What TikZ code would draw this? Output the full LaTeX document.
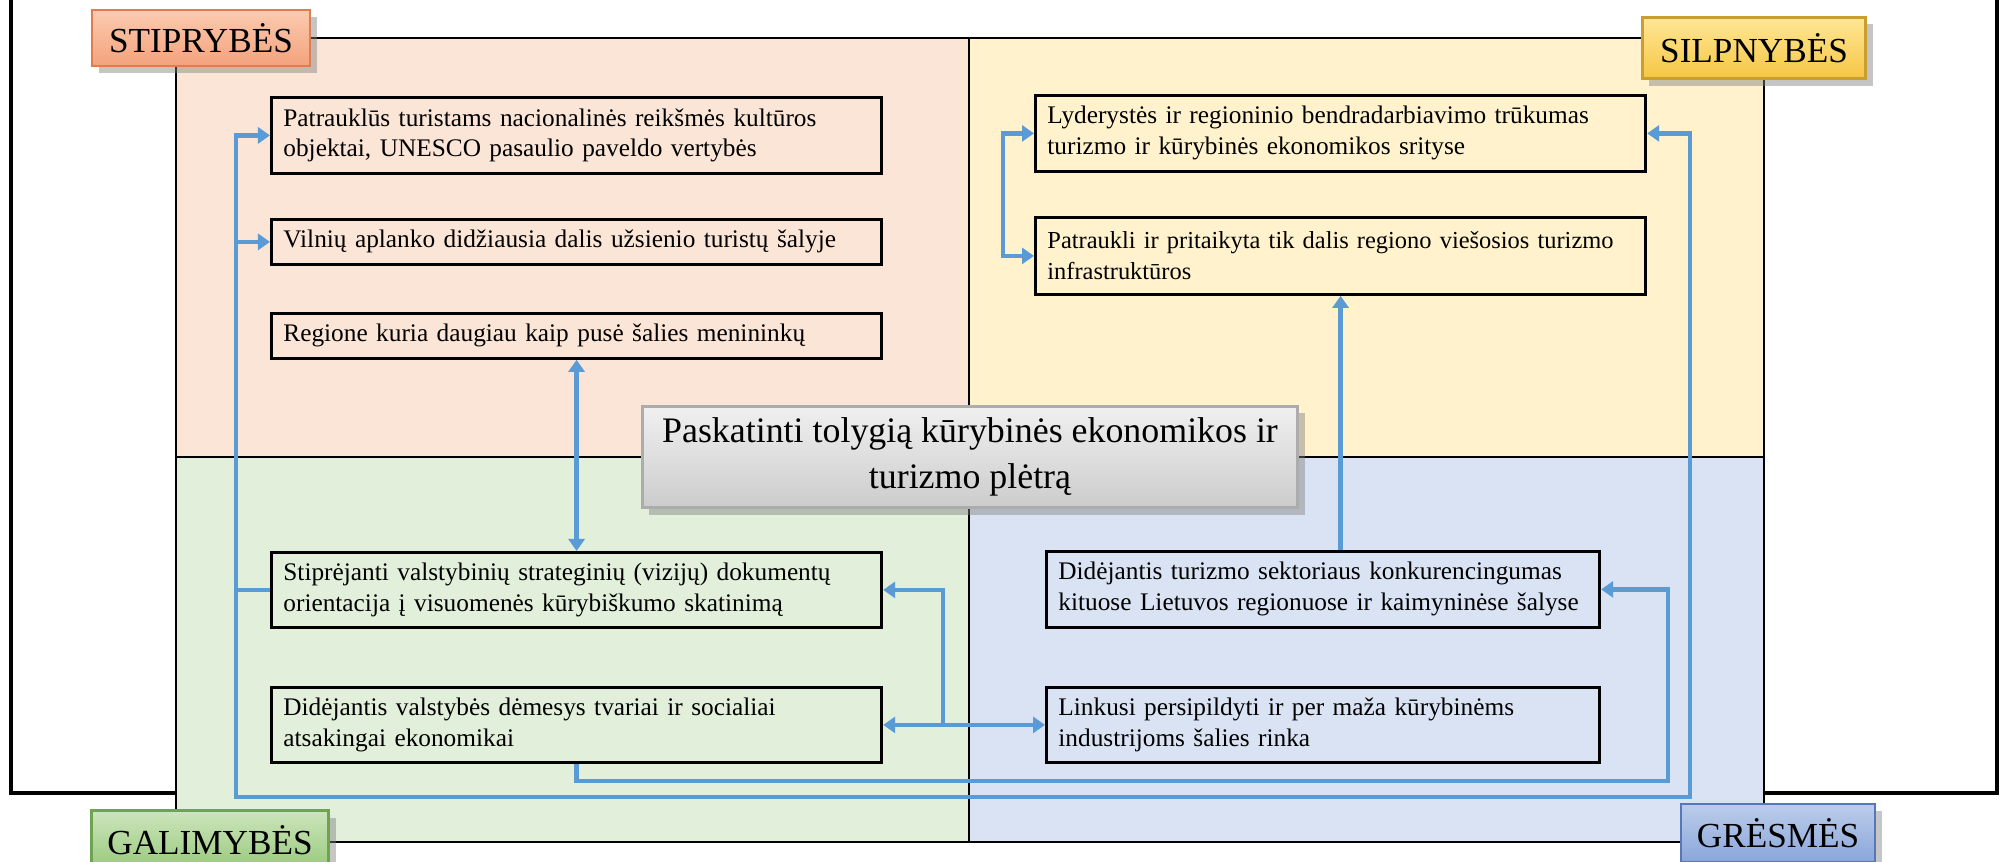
\documentclass[tikz,border=0pt]{standalone}
\usepackage{fontspec}
\setmainfont{Liberation Serif}
\usetikzlibrary{arrows.meta,shadows}
\definecolor{peach}{HTML}{FBE5D6}
\definecolor{cream}{HTML}{FFF2CC}
\definecolor{mint}{HTML}{E2EFDA}
\definecolor{sky}{HTML}{DAE3F3}
\definecolor{flowblue}{HTML}{5B9BD5}
\definecolor{stipT}{HTML}{FBCBB0}\definecolor{stipB}{HTML}{F4A27C}\definecolor{stipD}{HTML}{DE7C52}
\definecolor{silpT}{HTML}{FFE797}\definecolor{silpB}{HTML}{F6C644}\definecolor{silpD}{HTML}{C9A030}
\definecolor{galT}{HTML}{CDE5BD}\definecolor{galB}{HTML}{98C97B}\definecolor{galD}{HTML}{6FA34F}
\definecolor{gresT}{HTML}{BCCDEB}\definecolor{gresB}{HTML}{8AA6DA}\definecolor{gresD}{HTML}{5677B8}
\newcommand\itemfont{\fontsize{7.2}{8.8}\selectfont\hyphenpenalty=10000\relax}
\newcommand\snugfont{\fontsize{6.95}{8.8}\selectfont\hyphenpenalty=10000\relax}
\tikzset{
  item/.style={draw=black,line width=0.8pt,anchor=north west,align=left,inner xsep=0.12cm,inner ysep=0pt,
    font=\itemfont},
  wide/.style={text width=5.86cm},
  narrow/.style={text width=5.29cm},
  corner/.style n args={3}{top color=#1,bottom color=#2,draw=#3,line width=0.8pt,
    drop shadow={opacity=0.45,shadow xshift=2pt,shadow yshift=-2pt},font=\fontsize{10}{11}\selectfont},
  goal/.style={top color=gray!12,bottom color=gray!40,draw=gray!65,line width=0.8pt,align=center,
    drop shadow={opacity=0.45,shadow xshift=2pt,shadow yshift=-2pt},font=\fontsize{10.2}{13}\selectfont},
  flow/.style={draw=flowblue,line width=1.3pt}
}
\begin{document}
\begin{tikzpicture}[x=0.01cm,y=0.01cm,line join=miter,>={Triangle[length=1.2mm,width=1.6mm]}]
	\useasboundingbox (0,0) rectangle (2000,-862);
	\clip (0,0) rectangle (2000,-862);
	\draw[line width=0.9pt,fill=white] (11,10) rectangle (1997,-793);
	\fill[peach] (176,-38) rectangle (969,-457);
	\fill[cream] (969,-38) rectangle (1764,-457);
	\fill[mint] (176,-457) rectangle (969,-842);
	\fill[sky] (969,-457) rectangle (1764,-842);
	\draw[line width=0.7pt] (176,-38) rectangle (1764,-842) (969,-38) -- (969,-842) (176,-457) -- (1764,-457);

	\node[item,wide,minimum height=0.76cm] (s1) at (270,-96) {Patrauklūs turistams nacionalinės reikšmės kultūros\\objektai, UNESCO pasaulio paveldo vertybės};
	\node[item,wide,minimum height=0.45cm] (s2) at (270,-218) {Vilnių aplanko didžiausia dalis užsienio turistų šalyje};
	\node[item,wide,minimum height=0.45cm] (s3) at (270,-312) {Regione kuria daugiau kaip pusė šalies menininkų};
	\node[item,wide,minimum height=0.76cm] (w1) at (1034,-94) {Lyderystės ir regioninio bendradarbiavimo trūkumas\\turizmo ir kūrybinės ekonomikos srityse};
	\node[item,wide,minimum height=0.77cm,font=\snugfont] (w2) at (1034,-216) {Patraukli ir pritaikyta tik dalis regiono viešosios turizmo\\infrastruktūros};
	\node[item,wide,minimum height=0.75cm] (o1) at (270,-551) {Stiprėjanti valstybinių strateginių (vizijų) dokumentų\\orientacija į visuomenės kūrybiškumo skatinimą};
	\node[item,wide,minimum height=0.75cm] (o2) at (270,-686) {Didėjantis valstybės dėmesys tvariai ir socialiai\\atsakingai ekonomikai};
	\node[item,narrow,minimum height=0.76cm] (t1) at (1045,-550) {Didėjantis turizmo sektoriaus konkurencingumas\\kituose Lietuvos regionuose ir kaimyninėse šalyse};
	\node[item,narrow,minimum height=0.75cm] (t2) at (1045,-686) {Linkusi persipildyti ir per maža kūrybinėms\\industrijoms šalies rinka};

	\draw[flow,->] (o1.west) -- ++(-34,0) |- (s1.west);
	\draw[flow,->] (o1.west) ++(-34,0) |- (s2.west);
	\draw[flow,->] (o1.west) ++(-34,0) |- (1690,-797) |- (w1.east);
	\draw[flow,<->] (s3.south) -- (o1.north);
	\draw[flow,<->] (o2.east) -- (t2.west);
	\draw[flow,->] (o2.east) ++(60,0) |- (o1.east);
	\draw[flow,->] (o2.south) |- (1668,-781) |- (t1.east);
	\draw[flow,->] (t1.north -| w2.south) -- (w2.south);
	\draw[flow,<->] (w1.west) -- ++(-31,0) |- (w2.west);

	\node[corner={stipT}{stipB}{stipD},minimum width=2.18cm,minimum height=0.56cm] (stip) at (201,-38) {STIPRYBĖS};
	\node[corner={silpT}{silpB}{silpD},minimum width=2.23cm,minimum height=0.61cm] (silp) at (1754,-48) {SILPNYBĖS};
	\node[corner={galT}{galB}{galD},minimum width=2.37cm,minimum height=0.59cm] (gal) at (210,-840) {GALIMYBĖS};
	\node[corner={gresT}{gresB}{gresD},minimum width=1.94cm,minimum height=0.58cm] (gres) at (1778,-833) {GRĖSMĖS};
	\node[goal,minimum width=6.55cm,minimum height=0.98cm] (goal) at (970,-457) {Paskatinti tolygią kūrybinės ekonomikos ir\\turizmo plėtrą};
\end{tikzpicture}
\end{document}
